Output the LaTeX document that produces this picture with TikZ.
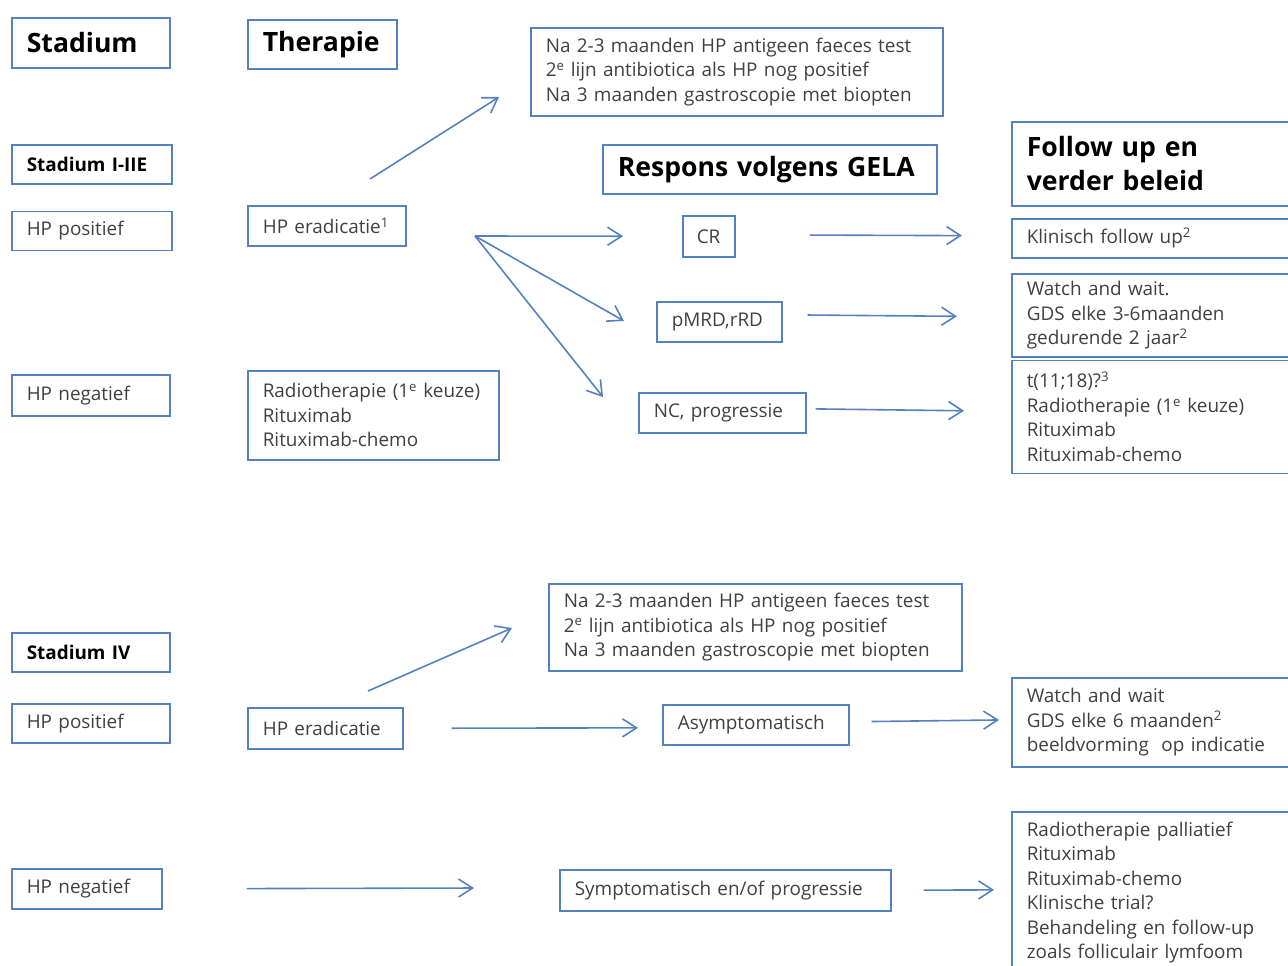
\documentclass[tikz,border=0pt]{standalone}
\usepackage{fontspec}
\setmainfont{Open Sans}
\usetikzlibrary{arrows.meta,positioning}
\definecolor{boxblue}{RGB}{84,130,192}
\definecolor{textgrey}{RGB}{64,64,64}
\newcommand{\bodysize}{\fontsize{18.9}{24.5}\selectfont}
\newcommand{\headsize}{\fontsize{26.6}{34}\selectfont\bfseries}
\tikzstyle{box}=[
	rectangle,
	draw=boxblue,
	line width=1.6pt,
	anchor=north west,
	inner xsep=15pt,
	inner ysep=0pt,
	align=left,
	text=textgrey,
	font=\bodysize
]
\tikzstyle{header}=[
	box,
	text=black,
	font=\headsize
]
\tikzstyle{subheader}=[
	box,
	text=black,
	font=\bodysize\bfseries
]
\tikzstyle{flow}=[
	-{Straight Barb[length=14pt,width=18pt]},
	draw=boxblue,
	line width=1.6pt
]

\begin{document}
\begin{tikzpicture}[x=1pt,y=-1pt]
\useasboundingbox (0,0) rectangle (1288,966);
% headers
\node [header, text width=128pt, minimum height=50pt] (Stadium) at (11,17) {Stadium};
\node [header, text width=119pt, minimum height=49pt] (Therapie) at (247,19) {Therapie};
\node [header, text width=304pt, minimum height=49pt] (Respons) at (602,144) {Respons volgens GELA};
\node [header, text width=269pt, minimum height=84pt] (FollowUp) at (1011,121) {Follow up en\\verder beleid};

% stadium I-IIE
\node [subheader, text width=130pt, minimum height=39pt] (StadiumOne) at (11,144) {Stadium I-IIE};
\node [box, text width=130pt, minimum height=39pt, below=26pt of StadiumOne.south west, anchor=north west] (HPPosOne) {HP positief};
\node [box, text width=128pt, minimum height=41pt] (HPNegOne) at (11,374) {HP negatief};
\node [box, text width=128pt, minimum height=40pt] (EradOne) at (247,205) {HP eradicatie\textsuperscript{1}};
\node [box, text width=221pt, minimum height=89pt] (RadioOne) at (247,370) {Radiotherapie (1\textsuperscript{e} keuze)\\Rituximab\\Rituximab-chemo};
\node [box, text width=382pt, minimum height=88pt] (NoteOne) at (530,27) {Na 2-3 maanden HP antigeen faeces test\\2\textsuperscript{e} lijn antibiotica als HP nog positief\\Na 3 maanden gastroscopie met biopten};
\node [box, text width=24pt, minimum height=41pt, inner xsep=14pt] (CR) at (682,215) {CR};
\node [box, text width=95pt, minimum height=40pt] (PMRD) at (656,301) {pMRD,rRD};
\node [box, text width=137pt, minimum height=40pt] (NCProg) at (638,392) {NC, progressie};
\node [box, text width=269pt, minimum height=39pt] (Klinisch) at (1011,218) {Klinisch follow up\textsuperscript{2}};
\node [box, text width=269pt, minimum height=83pt] (WatchOne) at (1011,273) {Watch and wait.\\GDS elke 3-6maanden\\gedurende 2 jaar\textsuperscript{2}};
\node [box, text width=269pt, minimum height=113pt, below=2pt of WatchOne.south west, anchor=north west] (Translocatie) {t(11;18)?\textsuperscript{3}\\Radiotherapie (1\textsuperscript{e} keuze)\\Rituximab\\Rituximab-chemo};

% stadium IV
\node [subheader, text width=128pt, minimum height=39pt] (StadiumTwo) at (11,632) {Stadium IV};
\node [box, text width=128pt, minimum height=39pt] (HPPosTwo) at (11,703) {HP positief};
\node [box, text width=120pt, minimum height=40pt] (HPNegTwo) at (11,868) {HP negatief};
\node [box, text width=125pt, minimum height=41pt] (EradTwo) at (247,707) {HP eradicatie};
\node [box, text width=383pt, minimum height=87pt] (NoteTwo) at (548,583) {Na 2-3 maanden HP antigeen faeces test\\2\textsuperscript{e} lijn antibiotica als HP nog positief\\Na 3 maanden gastroscopie met biopten};
\node [box, text width=156pt, minimum height=40pt] (Asym) at (662,704) {Asymptomatisch};
\node [box, text width=301pt, minimum height=41pt] (Symp) at (559,869) {Symptomatisch en/of progressie};
\node [box, text width=269pt, minimum height=89pt] (WatchTwo) at (1011,677) {Watch and wait\\GDS elke 6 maanden\textsuperscript{2}\\beeldvorming\ \ op indicatie};
\node [box, text width=269pt, minimum height=161pt] (RadioTwo) at (1011,811) {Radiotherapie palliatief\\Rituximab\\Rituximab-chemo\\Klinische trial?\\Behandeling en follow-up\\zoals folliculair lymfoom};

% free arrow ends
\coordinate (EradOneUp) at (370,179);
\coordinate (NoteOneIn) at (499,97);
\coordinate (Fork) at (475,236);
\coordinate (PMRDIn) at (624,321);
\coordinate (NCIn) at (603,397);
\coordinate (EradTwoUp) at (368,691);
\coordinate (NoteTwoIn) at (512,628);

% arrows
\draw [flow] (EradOneUp) -- (NoteOneIn);
\draw [flow, shorten >=59pt] (Fork) -- (CR.west);
\draw [flow] (Fork) -- (PMRDIn);
\draw [flow] (Fork) -- (NCIn);
\draw [flow, shorten <=74pt, shorten >=49pt] ([yshift=1.5pt]CR.east) -- ([yshift=2.5pt]Klinisch.west);
\draw [flow, shorten <=25pt, shorten >=54pt] ([yshift=7pt]PMRD.east) -- ([yshift=-1.5pt]WatchOne.west);
\draw [flow, shorten <=9pt, shorten >=47pt] ([yshift=4pt]NCProg.east) -- ([yshift=5.5pt]Translocatie.west);
\draw [flow] (EradTwoUp) -- (NoteTwoIn);
\draw [flow, shorten <=48pt, shorten >=24pt] (EradTwo.east) -- ([yshift=-3pt]Asym.west);
\draw [flow, shorten <=22pt, shorten >=12pt] ([yshift=3pt]Asym.east) -- ([yshift=2.5pt]WatchTwo.west);
\draw [flow, shorten <=84pt, shorten >=85pt] (HPNegTwo.east) -- ([yshift=2.5pt]Symp.west);
\draw [flow, shorten <=32pt, shorten >=17pt] (Symp.east) -- ([yshift=2.5pt]RadioTwo.west);
\end{tikzpicture}
\end{document}
